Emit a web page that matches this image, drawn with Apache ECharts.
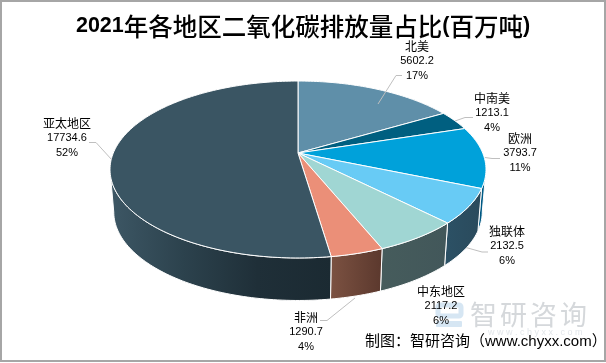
<!DOCTYPE html>
<html>
<head>
<meta charset="utf-8">
<style>html,body{margin:0;padding:0;background:#fff}#c{width:606px;height:363px}</style>
<script src="https://cdn.jsdelivr.net/npm/echarts@6/dist/echarts.min.js"></script>
</head>
<body>
<div id="c"></div>
<script>
// ---------- data ----------
const categories = ['北美','中南美','欧洲','独联体','中东地区','非洲','亚太地区'];
const emissions  = [5602.2,1213.1,3793.7,2132.5,2117.2,1290.7,17734.6];
const valueTexts = ['5602.2','1213.1','3793.7','2132.5','2117.2','1290.7','17734.6'];
const shares     = ['17%','4%','11%','6%','6%','4%','52%'];

// ---------- styles ----------
const topColors = ['#5F8FA9','#005F80','#00A1DA','#68CBF5','#A0D6D3','#EB8F78','#3A5563'];
const wallStops = [
  ['#3a5f75','#3a5f75'],
  ['#003c52','#003c52'],
  ['#00527a','#00628f'],
  ['#2c5165','#2a4a5c'],
  ['#465c5c','#42575a'],
  ['#7c5242','#5b382d'],
  ['#3d5765','#2c424d','#1f2f38','#1b2a32']
];
// label layout: centre x, first line y
const labelPos = [[417,46],[492,98],[520,138],[507,231],[441,291],[306,317],[67,123]];
const leaderLines = [
  [[378,104],[396,75.5],[402,75.5]],
  [[455,121],[465,117.5],[473,117.5]],
  [[485,157.5],[492,158.5],[500,158.5]],
  [[466,247.5],[482,252],[488,252]],
  null,
  [[355,298],[327,320.5],[320,320.5]],
  [[112,160],[96,142.5],[89,142.5]]
];

// ---------- projection of the pie disc ----------
const CX = 298, APEX_Y = 153, A = 184.7, B = 85.4, K = 0.1864, DEPTH = 42.5, BOTTOM_SCALE = 0.98;
const total = emissions.reduce((s, v) => s + v, 0);
const startAngles = [];
emissions.reduce((s, v, i) => { startAngles[i] = s; return s + v / total * Math.PI * 2; }, 0);
function proj(t) {
  const d = 1 + K * Math.cos(t);
  return [CX + A * Math.sin(t) / d, APEX_Y - B * Math.cos(t) / d];
}
function projBottom(t) {
  const p = proj(t);
  return [CX + (p[0] - CX) * BOTTOM_SCALE, p[1] + DEPTH];
}
function arc(fn, a, b) {
  const n = Math.max(2, Math.ceil(Math.abs(b - a) / 0.02));
  const pts = [];
  for (let i = 0; i <= n; i++) pts.push(fn(a + (b - a) * i / n));
  return pts;
}
const tangentR = Math.acos(-K), tangentL = Math.PI * 2 - tangentR;

function sliceRange(i) {
  const a = startAngles[i];
  return [a, a + emissions[i] / total * Math.PI * 2];
}

const chart = echarts.init(document.getElementById('c'), null, {renderer: 'canvas'});
const dataRows = categories.map((c, i) => ({name: c, value: [i, emissions[i]]}));

chart.setOption({
  animation: false,
  backgroundColor: '#fff',
  title: {
    text: '{n|2021}{c|年各地区二氧化碳排放量占比}{n|(}{c|百万吨}{n|)}',
    left: 'center', top: 9,
    textStyle: {
      rich: {
        n: {fontFamily: '"Liberation Sans"', fontWeight: 'bold', fontSize: 21.5, color: '#000'},
        c: {fontFamily: '"Noto Sans CJK SC"', fontWeight: 500, fontSize: 24.5, color: '#000'}
      }
    }
  },
  graphic: {elements: [
    {type: 'rect', z: 0, shape: {x: 1, y: 1, width: 604, height: 360}, style: {fill: 'none', stroke: '#A6A6A6', lineWidth: 2}},
    // watermark
    {type: 'rect', z: 1, shape: {x: 438, y: 305, width: 23, height: 11, r: 2}, style: {fill: 'none', stroke: '#D6E6F3', lineWidth: 5}},
    {type: 'rect', z: 1, shape: {x: 436, y: 321, width: 26, height: 6, r: 1}, style: {fill: '#D6E6F3'}},
    {type: 'text', z: 1, style: {text: '智', x: 470, y: 315, font: '27px "Noto Sans CJK SC"', fill: '#D5D8DB', verticalAlign: 'middle'}},
    {type: 'text', z: 1, style: {text: '研', x: 500, y: 315, font: '27px "Noto Sans CJK SC"', fill: '#D5D8DB', verticalAlign: 'middle'}},
    {type: 'text', z: 1, style: {text: '咨', x: 530, y: 315, font: '27px "Noto Sans CJK SC"', fill: '#D5D8DB', verticalAlign: 'middle'}},
    {type: 'text', z: 1, style: {text: '询', x: 560, y: 315, font: '27px "Noto Sans CJK SC"', fill: '#D5D8DB', verticalAlign: 'middle'}},
    {type: 'text', z: 1, style: {text: 'w w w . c h y x x . c o m', x: 488, y: 333, font: '9px "Liberation Sans"', fill: '#E2E6EA', verticalAlign: 'middle'}},
    {type: 'text', z: 30, style: {text: '制图：智研咨询（www.chyxx.com）', x: 365, y: 342, font: '15px "Liberation Sans","Noto Sans CJK SC"', fill: '#000', verticalAlign: 'middle'}}
  ]},
  series: [
    {
      type: 'custom', coordinateSystem: 'none', z: 5, silent: true, data: dataRows,
      renderItem(params, api) {
        const i = api.value(0);
        const [a0, b0] = sliceRange(i);
        const a = Math.max(a0, tangentR), b = Math.min(b0, tangentL);
        if (b <= a) return null;
        const pts = arc(proj, a, b).concat(arc(projBottom, b, a));
        const st = wallStops[i];
        return {
          type: 'polygon', shape: {points: pts},
          style: {
            fill: new echarts.graphic.LinearGradient(0, 0, 1, 0, st.map((c, k) => ({offset: k / (st.length - 1), color: c}))),
            stroke: '#fff', lineWidth: 1
          }
        };
      }
    },
    {
      type: 'custom', coordinateSystem: 'none', z: 6, silent: true, data: dataRows,
      renderItem(params, api) {
        const i = api.value(0);
        const [a, b] = sliceRange(i);
        return {
          type: 'polygon', shape: {points: [[CX, APEX_Y]].concat(arc(proj, a, b))},
          style: {fill: topColors[i], stroke: '#fff', lineWidth: 1, lineJoin: 'round'}
        };
      }
    },
    {
      type: 'custom', coordinateSystem: 'none', z: 10, silent: true, data: dataRows,
      renderItem(params, api) {
        const i = api.value(0);
        const [x, y] = labelPos[i];
        const kids = [
          {type: 'text', style: {text: categories[i], x, y, align: 'center', verticalAlign: 'middle', font: '12px "Noto Sans CJK SC"', fill: '#000'}},
          {type: 'text', style: {text: valueTexts[i], x, y: y + 15, align: 'center', verticalAlign: 'middle', font: '11px "Liberation Sans"', fill: '#000'}},
          {type: 'text', style: {text: shares[i], x, y: y + 30, align: 'center', verticalAlign: 'middle', font: '11px "Liberation Sans"', fill: '#000'}}
        ];
        if (leaderLines[i]) kids.push({type: 'polyline', shape: {points: leaderLines[i]}, style: {fill: 'none', stroke: '#BFBFBF', lineWidth: 1}});
        return {type: 'group', children: kids};
      }
    }
  ]
});
</script>
</body>
</html>
